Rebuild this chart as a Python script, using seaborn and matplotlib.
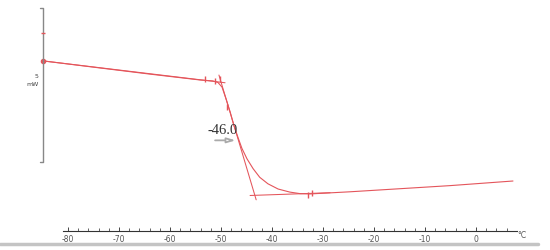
import numpy as np
import pandas as pd
import seaborn as sns
import matplotlib.pyplot as plt

# DSC curve, temperature (°C) vs heat flow (mW, arbitrary offset)
temp = [-84.9, -73.7, -63.9, -54.1, -51.6, -50.6, -49.8, -49.0, -48.2, -47.5,
        -46.7, -45.9, -44.9, -43.7, -42.4, -40.8, -38.8, -36.5, -34.5, -32.6,
        -24.7, -14.9, -5.1, 7.25]
heat = [6.14, 5.91, 5.71, 5.52, 5.49, 5.44, 5.29, 4.90, 4.48, 4.06,
        3.67, 3.30, 2.96, 2.64, 2.36, 2.15, 1.98, 1.88, 1.83, 1.82,
        1.89, 1.99, 2.09, 2.24]

# tangent construction lines
tan_upper_t = [-84.9, -49.2]
tan_upper_h = [6.14, 5.43]
tan_steep_t = [-50.4, -43.1]
tan_steep_h = [5.68, 1.63]
tan_lower_t = [-44.3, -28.6]
tan_lower_h = [1.77, 1.86]

# small evaluation marks
mark_t = [-53.1, -51.2, -50.2, -48.9, -32.9, -32.1]
mark_h = [5.55, 5.50, 5.56, 4.64, 1.79, 1.84]

onset_label = "-46.0"
onset_t, onset_h = -46.6, 3.56

scale_top, scale_bottom = 7.86, 2.86   # 5 mW scale bracket
x_ticks = [-80, -70, -60, -50, -40, -30, -20, -10, 0]

red = "#e4555b"
sns.set_style("white")
plt.rcParams["axes.unicode_minus"] = False

fig = plt.figure(figsize=(5.5, 2.5), dpi=100)
ax = fig.add_axes([0, 0, 1, 1])
ax.set_xlim(-93.33, 14.51)
ax.set_ylim(0, 8.117)
ax.axis("off")

curve = pd.DataFrame({"t": temp, "h": heat})
sns.lineplot(data=curve, x="t", y="h", sort=False, estimator=None,
             color=red, lw=0.8, ax=ax)
for tt, hh in [(tan_upper_t, tan_upper_h), (tan_steep_t, tan_steep_h),
               (tan_lower_t, tan_lower_h)]:
    sns.lineplot(x=tt, y=hh, sort=False, estimator=None, color=red, lw=0.75, ax=ax)
ax.plot(mark_t, mark_h, ls="none", marker="|", ms=4, mew=1, color=red)
ax.plot([temp[0]], [heat[0]], ls="none", marker="o", ms=3, color=red)

# scale bracket
bx = -84.9
ax.plot([bx - 0.5, bx, bx, bx - 0.5], [scale_top, scale_top, scale_bottom, scale_bottom],
        color="#888888", lw=1)
ax.plot([bx], [7.05], ls="none", marker="_", ms=3, color=red)
ax.text(bx - 0.9, 5.62, "5", fontsize=4.5, ha="right", va="center", color="#444444")
ax.text(bx - 0.9, 5.36, "mW", fontsize=4.5, ha="right", va="center", color="#444444")

# onset annotation
ax.annotate("", xy=(onset_t, onset_h), xytext=(-51.7, onset_h),
            arrowprops=dict(arrowstyle="-|>,head_length=0.5,head_width=0.15",
                            color="#aaaaaa", lw=1.3, fc="white"))
ax.text(-49.6, 3.87, onset_label, fontsize=10.5, family="Liberation Serif",
        ha="center", va="center", color="#333333")

# grey strip at bottom
ax.axhline(0.195, xmin=0, xmax=0.978, color="#c4c4c4", lw=2.5)

# temperature axis
axx = fig.add_axes([63 / 550, 0.076, 454 / 550, 0.001])
axx.set_xlim(-80.98, 8.04)
axx.set_yticks([])
for s in ["left", "right", "top"]:
    axx.spines[s].set_visible(False)
axx.spines["bottom"].set_color("#333333")
axx.spines["bottom"].set_linewidth(0.8)
axx.set_xticks(x_ticks)
axx.set_xticklabels([str(v) for v in x_ticks])
axx.set_xticks(np.arange(-80, 8, 2), minor=True)
axx.tick_params(axis="x", which="major", direction="in", length=3, width=0.6,
                labelsize=5.5, labelcolor="#555555", pad=3, bottom=True)
axx.tick_params(axis="x", which="minor", direction="in", length=2, width=0.5, bottom=True)
axx.text(1.0, -20, "°C", transform=axx.transAxes, fontsize=5.5, color="#555555",
         ha="left", va="center")

fig.savefig("out.png", dpi=100)
